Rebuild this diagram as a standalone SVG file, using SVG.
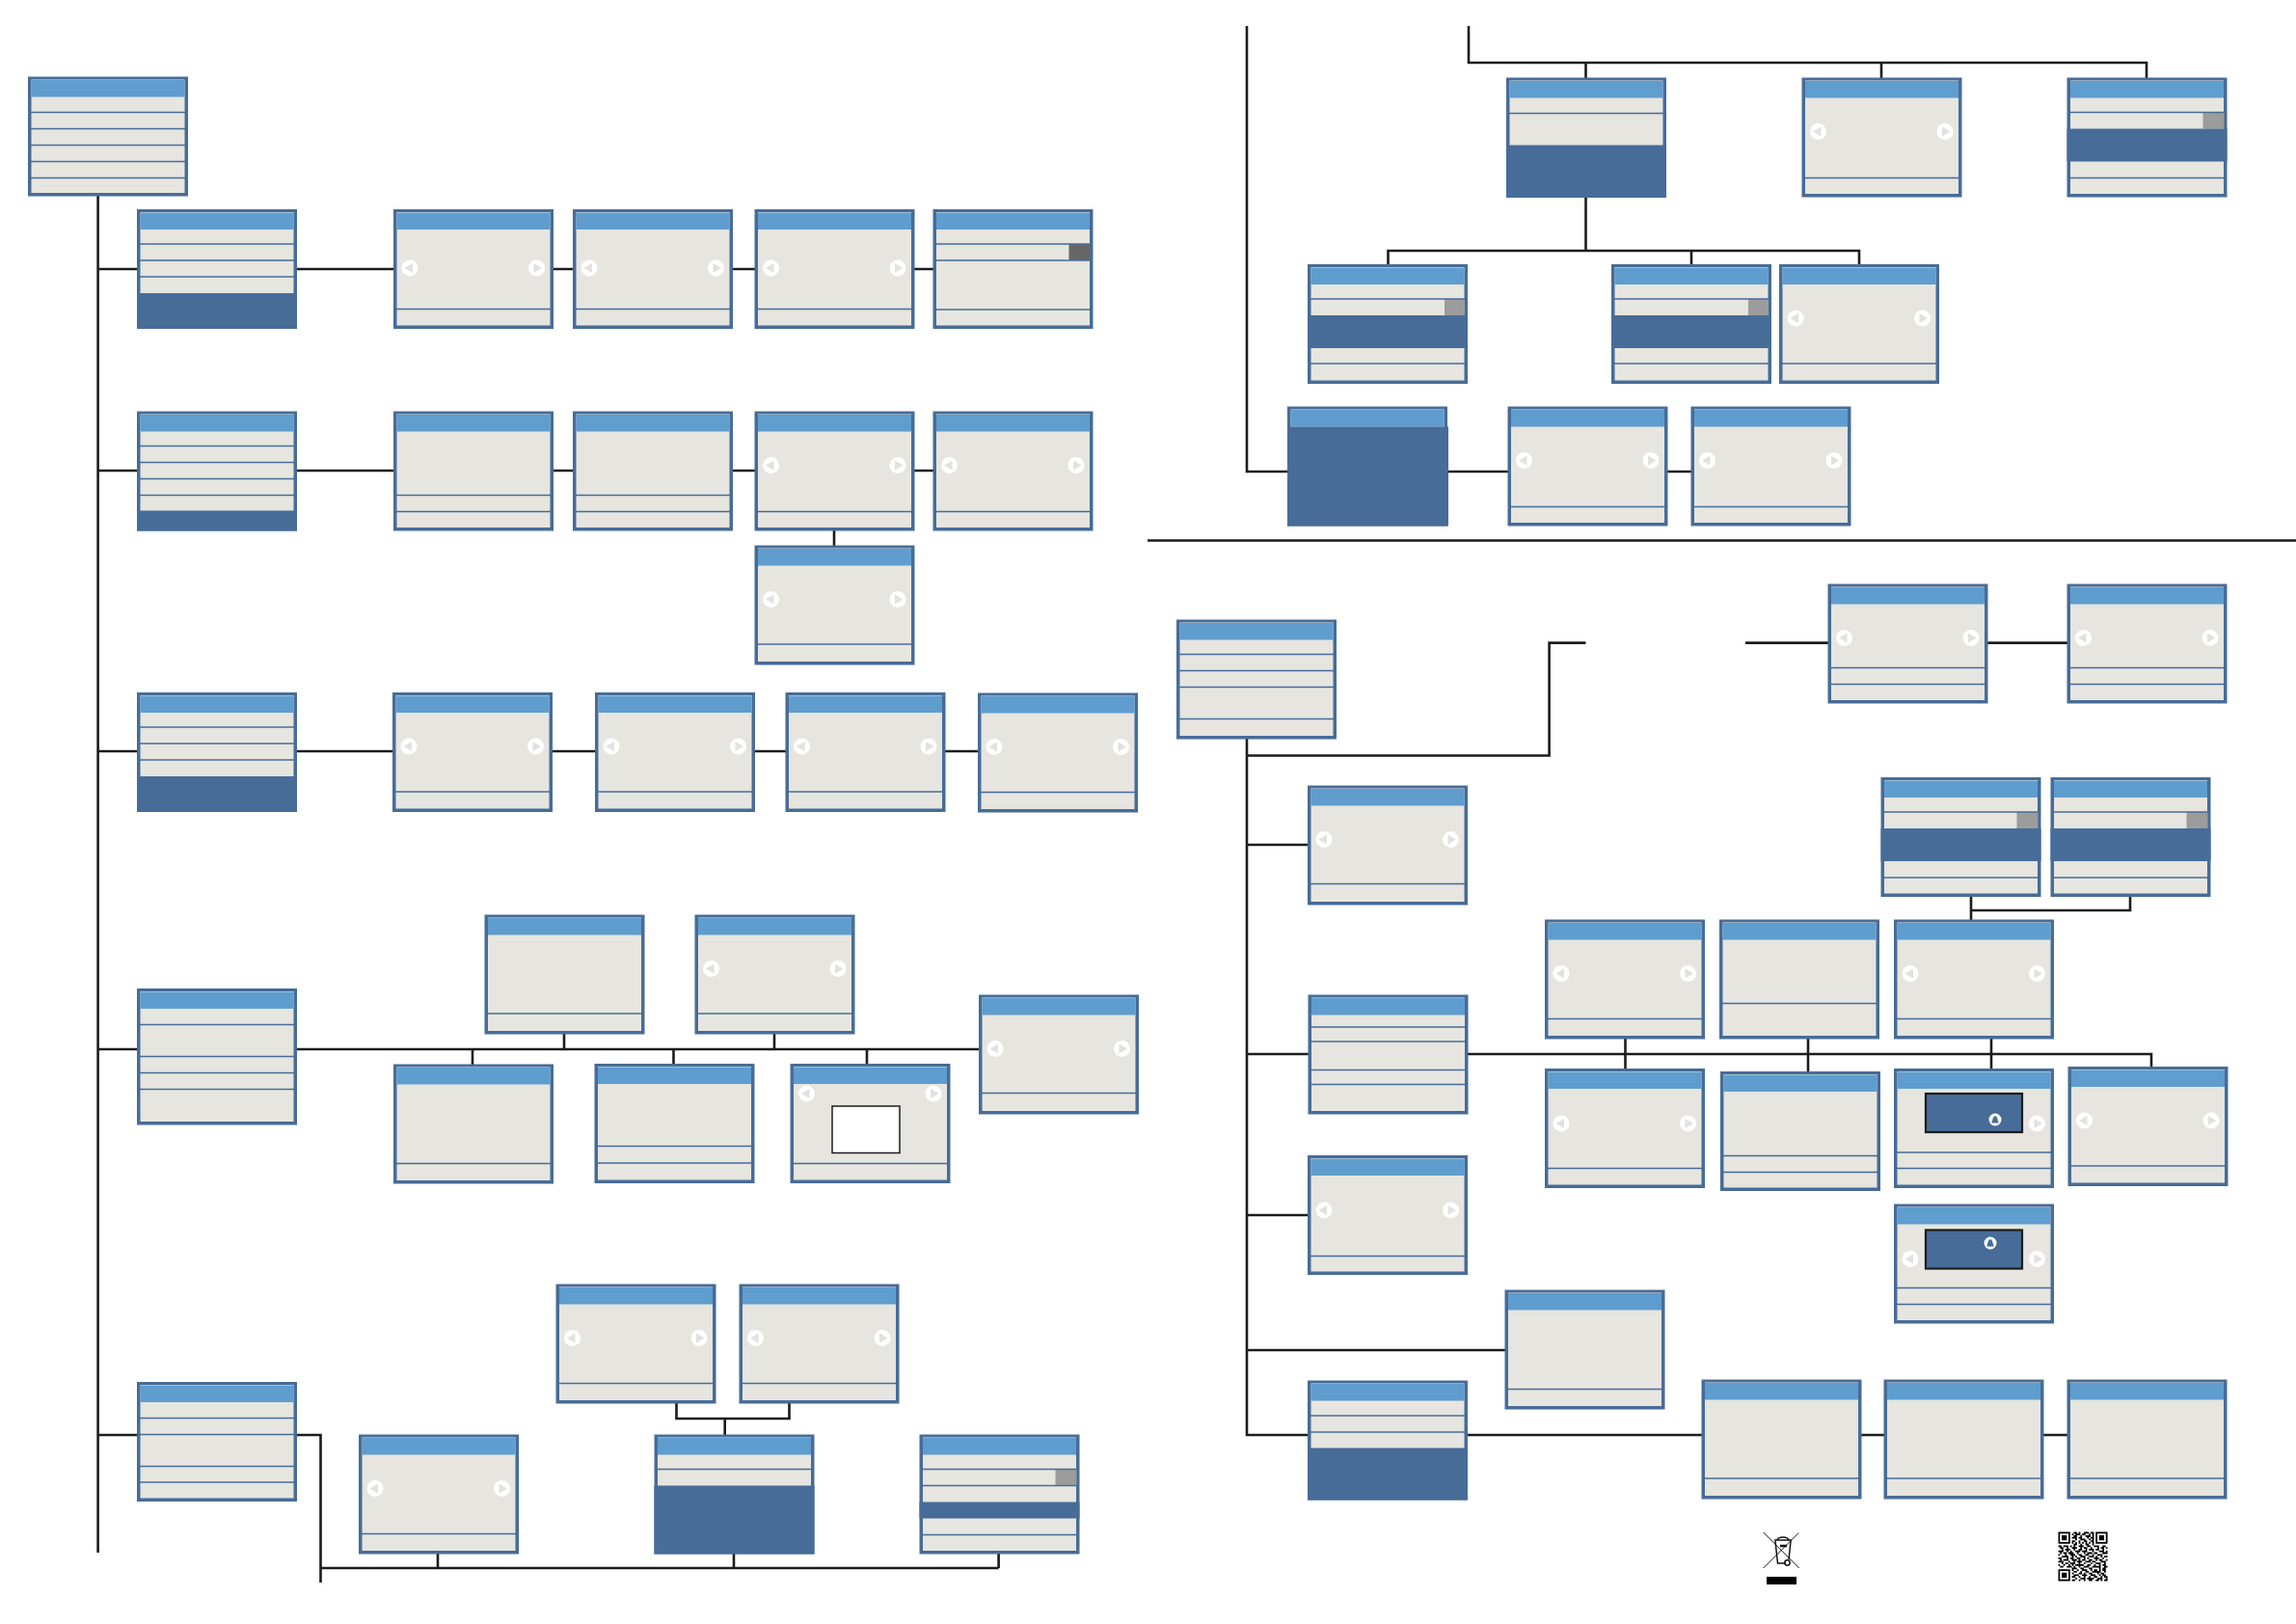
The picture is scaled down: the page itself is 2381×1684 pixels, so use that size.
<svg xmlns="http://www.w3.org/2000/svg" width="2381" height="1684" viewBox="0 0 2381 1684">
<style>
.f{fill:#476c98}.i{fill:#e6e5df}.t{fill:#5f9dcf}.d{fill:#476c98}
.l{fill:none;stroke:#476c98;stroke-width:1.300}
.c{fill:none;stroke:#1c1c1c;stroke-width:2.600}
.s{fill:#9c9c9c}.w{fill:#fff}.g{fill:#e2e1dc}
.box{fill:#476c98;stroke:#1c1c1c;stroke-width:2.200}
</style>
<defs>
<g id="b"><rect class="f" width="166" height="124"/><rect class="i" x="3.500" y="3" width="159" height="117.500"/><rect class="t" x="3.500" y="3.500" width="159" height="17.500"/></g>
<g id="al"><circle class="w" cx="17" cy="0" r="8.500"/><path class="g" d="M11.500 0L20 -5V5Z"/></g>
<g id="ar"><circle class="w" cx="148.500" cy="0" r="8.500"/><path class="g" d="M154 0L145.500 -5V5Z"/></g>
<g id="a"><use href="#al"/><use href="#ar"/></g>
<g id="bell"><circle class="w" r="6.500"/><path class="d" d="M-4 3.500C-2.500 2 -3 -3.500 0 -3.800C3 -3.500 2.500 2 4 3.500Z"/></g>
</defs>
<rect width="2381" height="1684" fill="#fff"/>
<g id="connectors">
<path class="c" d="M101.600 203V1610M101.600 279H968M101.600 488H968M865 550V566M101.600 779H1014M101.600 1088H1016M490 1088V1104M585 1071V1088M698.500 1088V1104M803 1071V1088M899 1088V1104M101.600 1488H332.500V1641M332.500 1626H1035.600M454 1610V1626M761 1611V1626M1035.600 1610V1626M701.500 1455V1471H818.500V1455M751.700 1471V1488"/>
<path class="c" d="M1293 27V489H1754M1523 27V65H2226V81M1644.500 65V260M1951 65V81M1439.500 275V260H1928V275M1754 260V275"/>
<path class="c" d="M1190 560.500H2381M1293 765V1488H2144M1293 783.500H1606.600V666.600H1644.500M1810 666.600H2144M1293 876H1356M1293 1093H2231V1106M1293 1260H1356M1293 1400H1561M1685.500 1077V1108M1875 1077V1111M2065 1077V1108M2044 929V954M2044 944H2209V929"/>
</g>
<g id="n01" transform="translate(29,79.500)"><use href="#b"/><path class="l" d="M3 37H163M3 54H163M3 71H163M3 88H163M3 105H163"/></g>
<g id="n02" transform="translate(142,217)"><use href="#b"/><rect class="d" y="87" width="166" height="37"/><path class="l" d="M3 36H163M3 53H163M3 70H163"/></g>
<g id="n03" transform="translate(408,217)"><use href="#b"/><use href="#a" y="61"/><path class="l" d="M3 103.500H163"/></g>
<g id="n04" transform="translate(594,217)"><use href="#b"/><use href="#a" y="61"/><path class="l" d="M3 103.500H163"/></g>
<g id="n05" transform="translate(782.500,217)"><use href="#b"/><use href="#a" y="61"/><path class="l" d="M3 103.500H163"/></g>
<g id="n06" transform="translate(967.500,217)"><use href="#b"/><rect x="141" y="36" width="22" height="17" fill="#666"/><path class="l" d="M3 36H163M3 53H163M3 104H163"/></g>
<g id="n07" transform="translate(142,426.500)"><use href="#b"/><rect class="d" y="103" width="166" height="21"/><path class="l" d="M3 36H163M3 53H163M3 70H163M3 87H163"/></g>
<g id="n08" transform="translate(408,426.500)"><use href="#b"/><path class="l" d="M3 87H163M3 104H163"/></g>
<g id="n09" transform="translate(594,426.500)"><use href="#b"/><path class="l" d="M3 87H163M3 104H163"/></g>
<g id="n10" transform="translate(782.500,426.500)"><use href="#b"/><use href="#a" y="56"/><path class="l" d="M3 104H163"/></g>
<g id="n11" transform="translate(967.500,426.500)"><use href="#b"/><use href="#a" y="56"/><path class="l" d="M3 104H163"/></g>
<g id="n12" transform="translate(782.500,565.500)"><use href="#b"/><use href="#a" y="56"/><path class="l" d="M3 102.500H163"/></g>
<g id="n13" transform="translate(142,718)"><use href="#b"/><rect class="d" y="87" width="166" height="37"/><path class="l" d="M3 36H163M3 53H163M3 70H163"/></g>
<g id="n14" transform="translate(407,718)"><use href="#b"/><use href="#a" y="56"/><path class="l" d="M3 103H163"/></g>
<g id="n15" transform="translate(617,718)"><use href="#b"/><use href="#a" y="56"/><path class="l" d="M3 103H163"/></g>
<g id="n16" transform="translate(814.500,718)"><use href="#b"/><use href="#a" y="56"/><path class="l" d="M3 103H163"/></g>
<g id="n17" transform="translate(1014,718.500)"><use href="#b"/><use href="#a" y="56"/><path class="l" d="M3 103H163"/></g>
<g id="n18" transform="translate(142,1025)"><rect class="f" width="166" height="141.500"/><rect class="i" x="3.500" y="3" width="159" height="135"/><rect class="t" x="3.500" y="3.500" width="159" height="17.500"/><path class="l" d="M3 37.500H163M3 70.500H163M3 87.500H163M3 104.500H163"/></g>
<g id="n19" transform="translate(502.500,948.500)"><use href="#b"/><path class="l" d="M3 102.500H163"/></g>
<g id="n20" transform="translate(720.500,948.500)"><use href="#b"/><use href="#a" y="56"/><path class="l" d="M3 102.500H163"/></g>
<g id="n21" transform="translate(1015,1031.500)"><use href="#b"/><use href="#a" y="56"/><path class="l" d="M3 102H163"/></g>
<g id="n22" transform="translate(408,1103.500)"><use href="#b"/><path class="l" d="M3 103H163"/></g>
<g id="n23" transform="translate(616.500,1103)"><use href="#b"/><path class="l" d="M3 85.500H163M3 103H163"/></g>
<g id="n24" transform="translate(819.500,1103)"><use href="#b"/><use href="#a" y="31"/><rect x="43.500" y="44" width="70" height="48.500" fill="#fff" stroke="#1c1c1c" stroke-width="1.500"/><path class="l" d="M3 103.500H163"/></g>
<g id="n25" transform="translate(142,1433)"><use href="#b"/><path class="l" d="M3 37.500H163M3 54.500H163M3 87.500H163M3 104H163"/></g>
<g id="n26" transform="translate(576.500,1331.500)"><use href="#b"/><use href="#a" y="56"/><path class="l" d="M3 103H163"/></g>
<g id="n27" transform="translate(766.500,1331.500)"><use href="#b"/><use href="#a" y="56"/><path class="l" d="M3 103H163"/></g>
<g id="n28" transform="translate(372,1487.500)"><use href="#b"/><use href="#a" y="56"/><path class="l" d="M3 103H163"/></g>
<g id="n29" transform="translate(678.500,1487.500)"><use href="#b"/><rect class="d" y="53" width="166" height="71"/><path class="l" d="M3 36H163"/></g>
<g id="n30" transform="translate(953.500,1487.500)"><use href="#b"/><rect class="s" x="141" y="36" width="22" height="17"/><rect class="d" y="70" width="166" height="17"/><path class="l" d="M3 36H163M3 53H163M3 104H163"/></g>
<g id="n31" transform="translate(1562,80.500)"><use href="#b"/><rect class="d" y="70" width="166" height="54.500"/><path class="l" d="M3 37H163"/></g>
<g id="n32" transform="translate(1868.500,80.500)"><use href="#b"/><use href="#a" y="56"/><path class="l" d="M3 104H163"/></g>
<g id="n33" transform="translate(2143.500,80.500)"><use href="#b"/><rect class="s" x="141" y="36" width="22" height="17"/><rect class="d" y="53" width="166" height="34"/><path class="l" d="M3 36H163M3 104H163"/></g>
<g id="n34" transform="translate(1356,274)"><use href="#b"/><rect class="s" x="142" y="36" width="21" height="17"/><rect class="d" y="53" width="166" height="34"/><path class="l" d="M3 36H163M3 103H163"/></g>
<g id="n35" transform="translate(1671,274)"><use href="#b"/><rect class="s" x="142" y="36" width="21" height="17"/><rect class="d" y="53" width="166" height="34"/><path class="l" d="M3 36H163M3 103H163"/></g>
<g id="n36" transform="translate(1845,274)"><use href="#b"/><use href="#a" y="56"/><path class="l" d="M3 103H163"/></g>
<g id="n37" transform="translate(1335,421.500)"><use href="#b"/><rect class="d" y="21" width="167" height="103"/></g>
<g id="n38" transform="translate(1563.500,421.500)"><use href="#b"/><use href="#a" y="56"/><path class="l" d="M3 104H163"/></g>
<g id="n39" transform="translate(1753.500,421.500)"><use href="#b"/><use href="#a" y="56"/><path class="l" d="M3 104H163"/></g>
<g id="n40" transform="translate(1220,642.500)"><use href="#b"/><path class="l" d="M3 36H163M3 53H163M3 70H163M3 103H163"/></g>
<g id="n41" transform="translate(1895.500,605.500)"><use href="#b"/><use href="#a" y="56"/><path class="l" d="M3 87H163M3 104H163"/></g>
<g id="n42" transform="translate(2143.500,605.500)"><use href="#b"/><use href="#a" y="56"/><path class="l" d="M3 87H163M3 104H163"/></g>
<g id="n43" transform="translate(1950.500,806)"><use href="#b"/><rect class="s" x="141" y="36" width="22" height="17"/><rect class="d" y="53" width="166" height="34"/><path class="l" d="M3 36H163M3 104H163"/></g>
<g id="n44" transform="translate(2126.500,806)"><use href="#b"/><rect class="s" x="141" y="36" width="22" height="17"/><rect class="d" y="53" width="166" height="34"/><path class="l" d="M3 36H163M3 104H163"/></g>
<g id="n45" transform="translate(1356,814.500)"><use href="#b"/><use href="#a" y="56"/><path class="l" d="M3 102H163"/></g>
<g id="n46" transform="translate(1602,953.500)"><use href="#b"/><use href="#a" y="56"/><path class="l" d="M3 103H163"/></g>
<g id="n47" transform="translate(1783,953.500)"><use href="#b"/><path class="l" d="M3 87H163"/></g>
<g id="n48" transform="translate(1964,953.500)"><use href="#b"/><use href="#a" y="56"/><path class="l" d="M3 103H163"/></g>
<g id="n49" transform="translate(1356.500,1031.500)"><use href="#b"/><path class="l" d="M3 33.500H163M3 48.500H163M3 78H163M3 93H163"/></g>
<g id="n50" transform="translate(1602,1108)"><use href="#b"/><use href="#a" y="57"/><path class="l" d="M3 103.500H163"/></g>
<g id="n51" transform="translate(1784,1111)"><use href="#b"/><path class="l" d="M3 87.500H163M3 104.500H163"/></g>
<g id="n52" transform="translate(1964,1108)"><use href="#b"/><use href="#ar" y="57"/><rect class="box" x="33" y="26" width="100" height="40"/><use href="#bell" x="105" y="53"/><path class="l" d="M3 87H163M3 103.500H163"/></g>
<g id="n53" transform="translate(2144.500,1106)"><use href="#b"/><use href="#a" y="56"/><path class="l" d="M3 103H163"/></g>
<g id="n54" transform="translate(1964,1248.500)"><use href="#b"/><use href="#a" y="57"/><rect class="box" x="33" y="27" width="100" height="40"/><use href="#bell" x="100" y="40.500"/><path class="l" d="M3 87H163M3 104H163"/></g>
<g id="n55" transform="translate(1356,1198)"><use href="#b"/><use href="#a" y="57"/><path class="l" d="M3 104.500H163"/></g>
<g id="n56" transform="translate(1560.500,1337.500)"><use href="#b"/><path class="l" d="M3 103H163"/></g>
<g id="n57" transform="translate(1356,1431.500)"><use href="#b"/><rect class="d" y="70" width="166" height="54"/><path class="l" d="M3 36.500H163M3 53.500H163"/></g>
<g id="n58" transform="translate(1764.500,1430.500)"><use href="#b"/><path class="l" d="M3 102.500H163"/></g>
<g id="n59" transform="translate(1953.500,1430.500)"><use href="#b"/><path class="l" d="M3 102.500H163"/></g>
<g id="n60" transform="translate(2143.500,1430.500)"><use href="#b"/><path class="l" d="M3 102.500H163"/></g>
<g id="recycle" fill="none" stroke="#111">
<path stroke-width="1" d="M1828.700 1589L1865.700 1626M1865.200 1589.500L1828.700 1626"/>
<path stroke-width="1.500" d="M1840 1597H1858M1841 1598L1843.500 1621H1852M1857 1598L1855 1617M1843 1597C1844 1593 1854 1593 1855 1597"/>
<circle cx="1853.500" cy="1620.500" r="2.700" stroke-width="1.500"/>
<path d="M1846 1603H1853" stroke-width="2.500"/>
<rect x="1832" y="1635" width="31" height="8" fill="#000" stroke="none"/>
</g>
<g id="qr" transform="translate(2134.500,1588.500) scale(1.760)">
<path fill="none" stroke="#000" stroke-width="1" transform="translate(0,.5)" d="M0 0h7M9 0h2M12 0h1M15 0h3M19 0h2M22 0h7
M0 1h1M6 1h1M8 1h1M10 1h3M14 1h2M18 1h1M20 1h1M22 1h1M28 1h1
M0 2h1M2 2h3M6 2h1M9 2h2M13 2h1M16 2h3M20 2h1M22 2h1M24 2h3M28 2h1
M0 3h1M2 3h3M6 3h1M8 3h3M12 3h2M17 3h1M19 3h2M22 3h1M24 3h3M28 3h1
M0 4h1M2 4h3M6 4h1M10 4h1M13 4h3M18 4h1M20 4h1M22 4h1M24 4h3M28 4h1
M0 5h1M6 5h1M8 5h2M12 5h1M15 5h2M19 5h2M22 5h1M28 5h1
M0 6h7M8 6h1M10 6h1M12 6h1M14 6h1M16 6h1M18 6h1M20 6h1M22 6h7
M9 7h2M13 7h1M16 7h2M20 7h1
M0 8h2M3 8h3M7 8h1M9 8h1M12 8h3M17 8h2M21 8h3M26 8h2
M1 9h2M5 9h1M8 9h3M13 9h1M15 9h2M19 9h1M23 9h1M25 9h2M28 9h1
M2 10h1M4 10h3M9 10h1M12 10h2M16 10h1M18 10h3M22 10h2M26 10h1
M0 11h3M5 11h1M7 11h1M10 11h3M14 11h3M20 11h1M24 11h3M28 11h1
M1 12h1M3 12h2M6 12h3M11 12h1M15 12h1M17 12h3M21 12h2M26 12h3
M0 13h1M4 13h1M7 13h3M12 13h2M16 13h2M20 13h1M23 13h3
M2 14h4M8 14h1M10 14h1M13 14h3M18 14h3M22 14h1M25 14h1M27 14h2
M0 15h2M5 15h1M7 15h2M11 15h2M15 15h1M17 15h1M21 15h3M26 15h1
M1 16h1M3 16h3M8 16h3M12 16h1M14 16h2M18 16h2M22 16h1M24 16h2M28 16h1
M0 17h3M6 17h1M9 17h1M11 17h3M16 17h3M20 17h2M25 17h3
M2 18h1M4 18h2M7 18h3M12 18h1M15 18h1M19 18h1M22 18h3M27 18h1
M0 19h1M3 19h1M6 19h1M8 19h1M10 19h4M14 19h1M17 19h2M21 19h1M24 19h1M26 19h2
M1 20h2M5 20h3M9 20h1M12 20h1M15 20h3M20 20h5M27 20h2
M8 21h3M13 21h2M18 21h2M24 21h1M26 21h2
M0 22h7M8 22h1M11 22h1M14 22h3M19 22h1M21 22h2M24 22h1M26 22h2
M0 23h1M6 23h1M9 23h2M13 23h1M16 23h2M20 23h5M27 23h1
M0 24h1M2 24h3M6 24h1M8 24h1M12 24h2M15 24h1M18 24h2M23 24h1M25 24h2
M0 25h1M2 25h3M6 25h1M9 25h3M14 25h3M19 25h3M24 25h1M26 25h2
M0 26h1M2 26h3M6 26h1M8 26h2M12 26h1M15 26h1M18 26h1M21 26h2M25 26h1M27 26h2
M0 27h1M6 27h1M10 27h1M13 27h3M17 27h4M23 27h3M28 27h1
M0 28h7M8 28h2M12 28h1M15 28h1M18 28h2M22 28h2M25 28h1M27 28h2"/>
</g>
</svg>
